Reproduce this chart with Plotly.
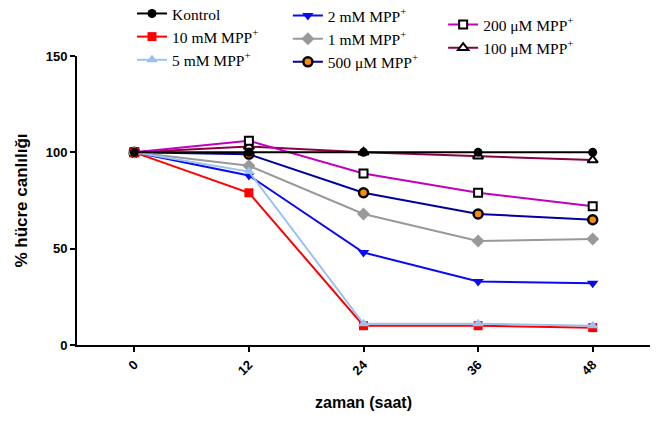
import plotly.graph_objects as go

hours = [0, 12, 24, 36, 48]
tick_labels = ["0", "12", "24", "36", "48"]

kontrol = [100, 100, 100, 100, 100]
mpp_10mM = [100, 79, 10, 10, 9]
mpp_5mM = [100, 90, 11, 11, 10]
mpp_2mM = [100, 88, 48, 33, 32]
mpp_1mM = [100, 93, 68, 54, 55]
mpp_500uM = [100, 99, 79, 68, 65]
mpp_200uM = [100, 106, 89, 79, 72]
mpp_100uM = [100, 103, 100, 98, 96]

fig = go.Figure()

def add(name, y, color, symbol, mfill, mline, mlw, legend, rank, size=9):
    fig.add_trace(go.Scatter(
        x=hours, y=y, name=name, mode="lines+markers",
        line=dict(color=color, width=2),
        marker=dict(symbol=symbol, size=size, color=mfill,
                    line=dict(color=mline, width=mlw)),
        legend=legend, legendrank=rank,
    ))

add("100 μM MPP<sup>+</sup>", mpp_100uM, "#8a0046", "triangle-up", "white", "black", 2, "legend3", 2, 9)
add("200 μM MPP<sup>+</sup>", mpp_200uM, "#c000c0", "square", "white", "black", 2, "legend3", 1, 8)
add("500 μM MPP<sup>+</sup>", mpp_500uM, "#0000a0", "circle", "#ff8c00", "black", 2.5, "legend2", 3, 9)
add("1 mM MPP<sup>+</sup>", mpp_1mM, "#999999", "diamond", "#999999", "#999999", 0, "legend2", 2, 10)
add("2 mM MPP<sup>+</sup>", mpp_2mM, "#0a0af5", "triangle-down", "#0a0af5", "#0a0af5", 0, "legend2", 1, 10)
add("10 mM MPP<sup>+</sup>", mpp_10mM, "#ff0000", "square", "#ff0000", "#ff0000", 0, "legend", 2, 9)
add("5 mM MPP<sup>+</sup>", mpp_5mM, "#99c2f0", "triangle-up", "#99c2f0", "#99c2f0", 0, "legend", 3, 10)
add("Kontrol", kontrol, "#000000", "circle", "#000000", "#000000", 0, "legend", 1, 9)

legfont = dict(family="Liberation Serif", size=15.5, color="black")
common = dict(font=legfont, bgcolor="rgba(0,0,0,0)", yref="paper", xref="paper",
              yanchor="top", xanchor="left", orientation="v", tracegroupgap=0,
              itemwidth=30, traceorder="normal")

fig.update_layout(
    width=656, height=421,
    margin=dict(l=77, r=6, t=0, b=76, autoexpand=False),
    plot_bgcolor="white", paper_bgcolor="white",
    legend=dict(x=0.096, y=1.009, **common),
    legend2=dict(x=0.368, y=1.003, **common),
    legend3=dict(x=0.639, y=0.977, **common),
    xaxis=dict(
        range=[-6, 54], tickvals=hours, ticktext=tick_labels, tickangle=-45,
        automargin=False,
        showline=True, linecolor="black", linewidth=2, ticks="outside",
        ticklen=5, tickwidth=1.5, tickcolor="black", showgrid=False, zeroline=False,
        tickfont=dict(family="Liberation Sans", size=13, color="black", weight="bold"),
        title=dict(text="<b>zaman (saat)</b>", standoff=20,
                   font=dict(family="Liberation Sans", size=16, color="black")),
    ),
    yaxis=dict(
        range=[0, 150], tickvals=[0, 50, 100, 150], domain=[0, 0.8377],
        automargin=False,
        showline=True, linecolor="black", linewidth=2, ticks="outside",
        ticklen=5, tickwidth=1.5, tickcolor="black", showgrid=False, zeroline=False,
        tickfont=dict(family="Liberation Sans", size=13, color="black", weight="bold"),
        title=dict(text="<b>% hücre canlılığı</b>", standoff=14,
                   font=dict(family="Liberation Sans", size=17, color="black")),
    ),
)

fig.write_html("out.html")
